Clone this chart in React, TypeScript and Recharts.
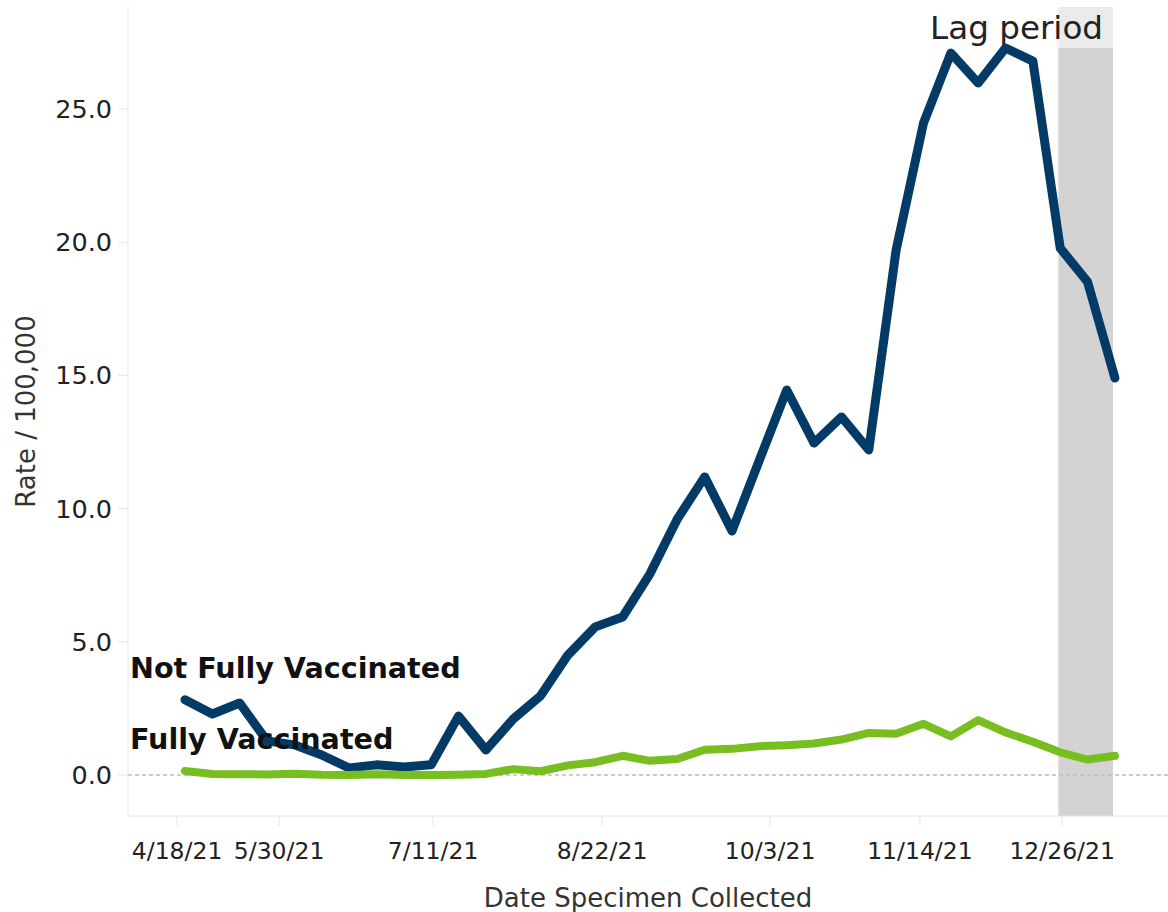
import { LineChart, Line, XAxis, YAxis, ReferenceArea, ReferenceLine, ReferenceDot } from 'recharts';

// weekly case rates per 100,000
const notFullyVaccinated = [
  2.82, 2.29, 2.7, 1.28, 1.13, 0.75, 0.26, 0.38, 0.3, 0.38,
  2.21, 0.94, 2.1, 2.97, 4.5, 5.56, 5.93, 7.55, 9.61, 11.19,
  9.16, 11.82, 14.45, 12.46, 13.44, 12.2, 19.71, 24.47, 27.1, 25.98,
  27.29, 26.8, 19.78, 18.51, 14.9,
];
const fullyVaccinated = [
  0.15, 0.04, 0.03, 0.02, 0.05, 0.01, 0.0, 0.03, 0.0, 0.0,
  0.01, 0.04, 0.22, 0.14, 0.36, 0.48, 0.72, 0.53, 0.6, 0.95,
  0.98, 1.08, 1.12, 1.18, 1.33, 1.58, 1.55, 1.92, 1.45, 2.06,
  1.6, 1.25, 0.85, 0.58, 0.72,
];

const tickWeeks = [-0.29, 3.44, 9.07, 15.25, 21.39, 26.87, 32.07];
const tickLabels = ['4/18/21', '5/30/21', '7/11/21', '8/22/21', '10/3/21', '11/14/21', '12/26/21'];
const yTicks = [0, 5, 10, 15, 20, 25];

const xDomain: [number, number] = [-2.084, 35.94];
const yDomain: [number, number] = [-1.54, 28.83];
const lagWeeks = [31.93, 33.93];
const lagBoxBottom = 27.29;

const FONT = 'DejaVu Sans';
const BLUE = '#033a66';
const GREEN = '#78be21';

const data = notFullyVaccinated.map((v, i) => ({ week: i, notFully: v, fully: fullyVaccinated[i] }));

const seriesLabel = (text: string) => (props: any) => {
  const { viewBox } = props;
  return (
    <text x={viewBox.x} y={viewBox.y} fontFamily={FONT} fontWeight="bold" fontSize={28.6} fill="#111">
      {text}
    </text>
  );
};

export default function App() {
  return (
    <div style={{ position: 'absolute', left: 0, top: 0, background: '#fff', fontFamily: FONT }}>
      <LineChart width={1168} height={912} data={data} margin={{ top: 7, right: 0, bottom: 0, left: 0 }}>
        <XAxis
          dataKey="week"
          type="number"
          domain={xDomain}
          allowDataOverflow
          ticks={tickWeeks}
          tickFormatter={(v: number) => tickLabels[tickWeeks.indexOf(v)] ?? ''}
          interval={0}
          height={96}
          stroke="#e6e6e6"
          tickSize={10}
          tickMargin={16}
          tick={{ fill: '#222', fontSize: 23.5, fontFamily: FONT }}
          label={(props: any) => {
            const vb = props.viewBox;
            return (
              <text x={vb.x + vb.width / 2} y={vb.y + 91} textAnchor="middle" fontFamily={FONT} fontSize={26} fill="#333">
                Date Specimen Collected
              </text>
            );
          }}
        />
        <YAxis
          type="number"
          domain={yDomain}
          allowDataOverflow
          ticks={yTicks}
          tickFormatter={(v: number) => v.toFixed(1)}
          width={128}
          stroke="#e6e6e6"
          tickSize={10}
          tickMargin={6}
          tick={{ fill: '#222', fontSize: 25.5, fontFamily: FONT }}
          label={(props: any) => {
            const vb = props.viewBox;
            const cy = vb.y + vb.height / 2;
            return (
              <text x={35} y={cy} transform={`rotate(-90, 35, ${cy})`} textAnchor="middle" fontFamily={FONT} fontSize={26} fill="#333">
                Rate / 100,000
              </text>
            );
          }}
        />
        <ReferenceArea x1={lagWeeks[0]} x2={lagWeeks[1]} y1={yDomain[0]} y2={lagBoxBottom} fill="#d3d3d3" fillOpacity={1} stroke="none" />
        <ReferenceArea
          x1={lagWeeks[0]}
          x2={lagWeeks[1]}
          y1={lagBoxBottom}
          y2={yDomain[1]}
          fill="#ebebeb"
          fillOpacity={1}
          stroke="none"
          label={(props: any) => {
            const vb = props.viewBox;
            return (
              <text x={vb.x + vb.width - 10} y={vb.y + 32} textAnchor="end" fontFamily={FONT} fontSize={32.6} fill="#222">
                Lag period
              </text>
            );
          }}
        />
        <ReferenceLine y={0} stroke="#bdbdbd" strokeWidth={1.5} strokeDasharray="4 3" />
        <Line
          dataKey="notFully"
          stroke={BLUE}
          strokeWidth={9}
          dot={false}
          strokeLinejoin="round"
          strokeLinecap="round"
          isAnimationActive={false}
        />
        <Line
          dataKey="fully"
          stroke={GREEN}
          strokeWidth={8}
          dot={false}
          strokeLinejoin="round"
          strokeLinecap="round"
          isAnimationActive={false}
        />
        <ReferenceDot x={-2.01} y={3.64} r={0} fill="none" stroke="none" label={seriesLabel('Not Fully Vaccinated')} />
        <ReferenceDot x={-2.01} y={0.98} r={0} fill="none" stroke="none" label={seriesLabel('Fully Vaccinated')} />
      </LineChart>
    </div>
  );
}
